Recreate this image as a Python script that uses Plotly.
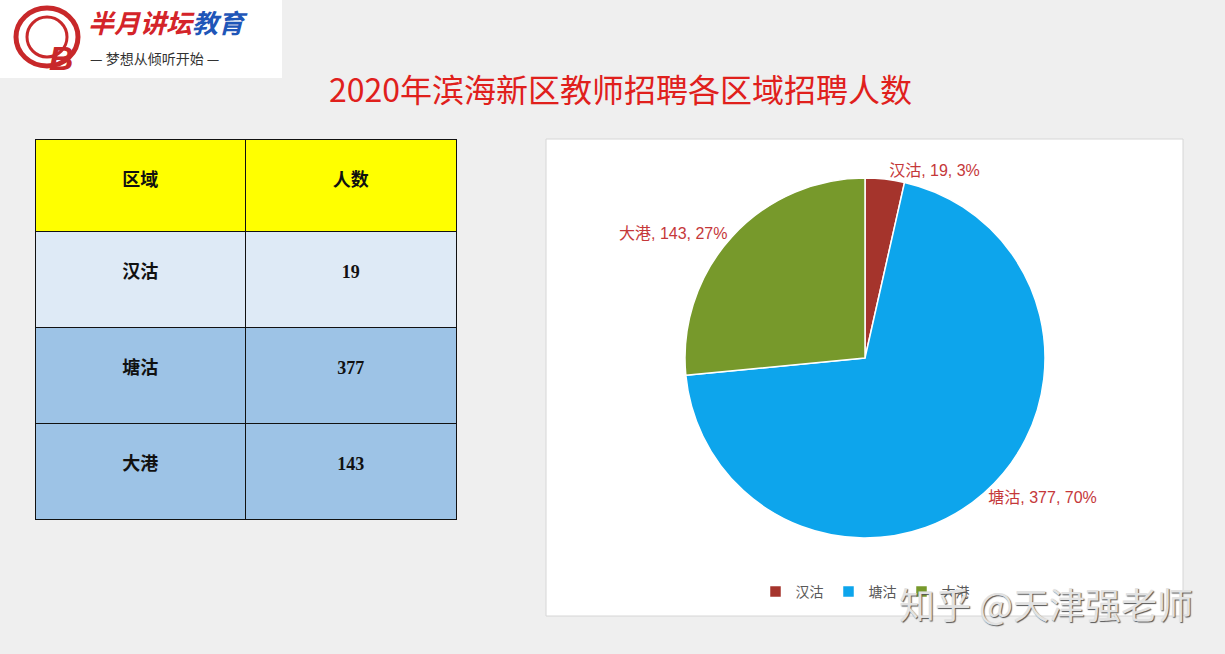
import plotly.graph_objects as go

# ---- data ----
regions = ["汉沽", "塘沽", "大港"]
counts = [19, 377, 143]
pct_labels = ["3%", "70%", "27%"]   # as printed on the chart
table_header = ["区域", "人数"]
slice_colors = ["#a5342c", "#0da5ec", "#77992b"]
title_text = "2020年滨海新区教师招聘各区域招聘人数"

W, H = 1225, 654

fig = go.Figure()

cell_font = dict(family="Liberation Serif, Noto Sans CJK SC", size=18, color="#111111")
spacer = "&nbsp;<br>"

# table
fig.add_trace(go.Table(
    domain=dict(x=[35 / W, 457 / W], y=[1 - 521 / H, 1 - 139 / H]),
    columnwidth=[1, 1],
    header=dict(
        values=[spacer + "<b>%s</b>" % h for h in table_header],
        fill_color="#ffff00",
        line=dict(color="#111111", width=1),
        align="center",
        height=92,
        font=cell_font,
    ),
    cells=dict(
        values=[[spacer + "<b>%s</b>" % r for r in regions],
                [spacer + "<b>%d</b>" % c for c in counts]],
        fill_color=[["#deeaf6", "#9dc3e6", "#9dc3e6"]] * 2,
        line=dict(color="#111111", width=1),
        align="center",
        height=96,
        font=cell_font,
    ),
))

# pie
cx, cy, r = 865, 358, 180
fig.add_trace(go.Pie(
    labels=regions,
    values=counts,
    customdata=pct_labels,
    sort=False,
    direction="clockwise",
    rotation=0,
    marker=dict(colors=slice_colors, line=dict(color="#ffffff", width=1.5)),
    texttemplate="%{label}, %{value}, %{customdata}",
    textposition="outside",
    textfont=dict(family="Liberation Sans, Noto Sans CJK SC", size=16, color="#c5383a"),
    domain=dict(x=[(cx - r) / W, (cx + r) / W], y=[1 - (cy + r) / H, 1 - (cy - r) / H]),
    showlegend=True,
    hoverinfo="label+value+percent",
))

shapes = [
    # pie panel
    dict(type="rect", xref="paper", yref="paper", x0=546 / W, x1=1183 / W,
         y0=1 - 616 / H, y1=1 - 139 / H, fillcolor="#ffffff",
         line=dict(color="#d6d6d6", width=1), layer="below"),
    # logo background
    dict(type="rect", xref="paper", yref="paper", x0=0, x1=282 / W,
         y0=1 - 78 / H, y1=1, fillcolor="#ffffff", line=dict(width=0), layer="below"),
    # logo swirl
    dict(type="circle", xref="paper", yref="paper", x0=16 / W, x1=78 / W,
         y0=1 - 66 / H, y1=1 - 8 / H, line=dict(color="#c8282a", width=5), layer="below"),
    dict(type="circle", xref="paper", yref="paper", x0=27 / W, x1=67 / W,
         y0=1 - 57 / H, y1=1 - 17 / H, line=dict(color="#c8282a", width=3), layer="below"),
]

annotations = [
    dict(text=title_text, x=620 / W, y=1 - 88 / H, xref="paper", yref="paper",
         showarrow=False, xanchor="center", yanchor="middle",
         font=dict(family="Noto Sans CJK SC", size=32, color="#e0201c")),
    dict(text="<b><i>B</i></b>", x=47 / W, y=1 - 37 / H, xref="paper", yref="paper",
         showarrow=False, font=dict(family="Liberation Sans", size=34, color="#c8282a")),
    dict(text="<b><i><span style='color:#d4242a'>半月讲坛</span><span style='color:#1f56b8'>教育</span></i></b>",
         x=86 / W, y=1 - 42 / H, xref="paper", yref="paper", xanchor="left", yanchor="bottom",
         showarrow=False, font=dict(family="Noto Sans CJK SC", size=26)),
    dict(text="— 梦想从倾听开始 —", x=88 / W, y=1 - 46 / H, xref="paper", yref="paper",
         xanchor="left", yanchor="top", showarrow=False,
         font=dict(family="Noto Sans CJK SC", size=14, color="#333333")),
    dict(text="知乎 @天津强老师", x=1195 / W, y=1 - 603 / H, xref="paper", yref="paper",
         xanchor="right", yanchor="middle", showarrow=False,
         font=dict(family="Noto Sans CJK SC", size=36, color="#e2e2e2",
                   shadow="1px 1px 1px #555555")),
]

fig.update_layout(
    width=W, height=H,
    margin=dict(l=0, r=0, t=0, b=0),
    paper_bgcolor="#efefef",
    plot_bgcolor="#efefef",
    shapes=shapes,
    annotations=annotations,
    legend=dict(orientation="h", x=865 / W, xanchor="center", y=1 - 592 / H, yanchor="middle",
                font=dict(family="Noto Sans CJK SC", size=14, color="#595959"),
                bgcolor="rgba(0,0,0,0)", itemwidth=30, traceorder="normal"),
    font=dict(family="Noto Sans CJK SC"),
)

fig.write_html("out.html", config={"displayModeBar": False},
               post_script="document.body.style.margin='0px';")
